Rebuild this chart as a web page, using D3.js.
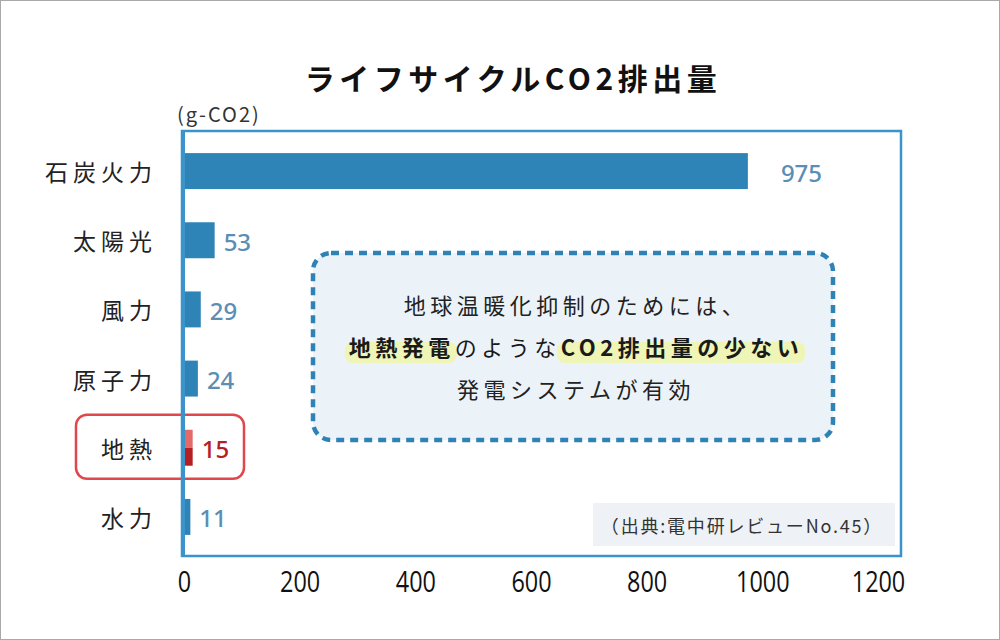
<!DOCTYPE html>
<html><head><meta charset="utf-8">
<script src="https://cdn.jsdelivr.net/npm/d3@7"></script>
<style>
html,body{margin:0;padding:0;background:#fff;}
svg{display:block;}
</style></head>
<body>
<svg id="chart" width="1000" height="640"></svg>
<script>
const categories = ["石炭火力","太陽光","風力","原子力","地熱","水力"];
const values = [975, 53, 29, 24, 15, 11];
const xTicks = [0, 200, 400, 600, 800, 1000, 1200];
const titleText = "ライフサイクルCO2排出量";
const unitText = "(g-CO2)";
const sourceText = "（出典:電中研レビューNo.45）";
const noteLine1 = "地球温暖化抑制のためには、";
const noteLine2 = [{t:"地熱発電", b:true}, {t:"のような", b:false}, {t:"CO2排出量の少ない", b:true}];
const noteLine3 = "発電システムが有効";
const highlightCat = "地熱";

const JP = "'Noto Sans CJK JP','Noto Sans',sans-serif";
const svg = d3.select("#chart");

// outer border
svg.append("rect").attr("x",0.5).attr("y",0.5).attr("width",999).attr("height",639)
  .attr("fill","#fff").attr("stroke","#a9a9a9").attr("stroke-width",1);

const x = d3.scaleLinear().domain([0,1200]).range([184, 878]);
const y = d3.scaleBand().domain(categories).range([136.5, 551.5]).paddingInner(0.48).paddingOuter(0.24);

const frameTop = 131, frameBottom = 556, frameRight = 901;

// title
svg.append("text").attr("x",513).attr("y",77).attr("text-anchor","middle")
  .attr("dominant-baseline","central")
  .style("font-family",JP).style("font-weight","700").style("font-size","30px")
  .style("letter-spacing","4.5px").attr("fill","#111").text(titleText);

// unit
svg.append("text").attr("x",177).attr("y",113).attr("dominant-baseline","central")
  .style("font-family",JP).style("font-size","20px").style("letter-spacing","2px")
  .attr("fill","#333").text(unitText);

// highlight box around geothermal
const hy = y(highlightCat) + y.bandwidth()/2;
svg.append("rect").attr("x",76).attr("y",hy-33).attr("width",168).attr("height",64)
  .attr("rx",11).attr("fill","none").attr("stroke","#e0474c").attr("stroke-width",2.5);

// frame
svg.append("rect").attr("x",182).attr("y",frameTop).attr("width",frameRight-182).attr("height",frameBottom-frameTop)
  .attr("fill","none").attr("stroke","#3a93cb").attr("stroke-width",2.5);

// annotation box
svg.append("rect").attr("x",313).attr("y",253).attr("width",520).attr("height",187).attr("rx",18)
  .attr("fill","#ecf3f8").attr("stroke","#2e82b5").attr("stroke-width",4.5)
  .attr("stroke-dasharray","8 6");

const noteG = svg.append("g");
const noteCx = 574;
function noteText(str, yy){
  noteG.append("text").attr("x",noteCx+2).attr("y",yy).attr("text-anchor","middle")
    .attr("dominant-baseline","central")
    .style("font-family",JP).style("font-size","22px").style("letter-spacing","4.5px")
    .attr("fill","#222").text(str);
}
noteText(noteLine1, 304);
noteText(noteLine3, 388);
// line 2 with highlights
const hlG = noteG.append("g");
const pieces = noteLine2.map(p => {
  const t = noteG.append("text").attr("y",346).attr("dominant-baseline","central")
    .style("font-family",JP).style("font-size","22px").style("letter-spacing","4.5px")
    .style("font-weight", p.b ? "700" : "400").attr("fill","#1a1a1a").text(p.t);
  return {el:t, w:t.node().getComputedTextLength(), b:p.b};
});
const total = d3.sum(pieces, p=>p.w);
let cx = noteCx - total/2 + 2;
pieces.forEach(p => {
  p.el.attr("x", cx);
  if (p.b) {
    hlG.append("rect").attr("x",cx-4).attr("y",342).attr("width",p.w+6).attr("height",21)
      .attr("rx",8).attr("fill","#eef5b6");
  }
  cx += p.w;
});

// source box
svg.append("rect").attr("x",593).attr("y",503).attr("width",302).attr("height",43).attr("fill","#eef2f7");
svg.append("text").attr("x",742).attr("y",525).attr("text-anchor","middle").attr("dominant-baseline","central")
  .style("font-family",JP).style("font-size","18px").style("letter-spacing","1.8px")
  .attr("fill","#333").text(sourceText);

// bars
const bars = svg.append("g");
categories.forEach((c,i) => {
  const v = values[i];
  const y0 = y(c), bw = y.bandwidth();
  if (c === highlightCat) {
    bars.append("rect").attr("x",x(0)).attr("y",y0).attr("width",x(v)-x(0)).attr("height",bw/2).attr("fill","#e46a6a");
    bars.append("rect").attr("x",x(0)).attr("y",y0+bw/2).attr("width",x(v)-x(0)).attr("height",bw/2).attr("fill","#b41f24");
  } else {
    bars.append("rect").attr("x",x(0)).attr("y",y0).attr("width",x(v)-x(0)).attr("height",bw).attr("fill","#2f84b7");
  }
  svg.append("text").attr("x", x(v) + (i===0 ? 33 : 9)).attr("y", y0 + bw/2 + 1).attr("dominant-baseline","central")
    .style("font-family","'Noto Sans',sans-serif").style("font-size","24px").style("font-weight","500")
    .attr("fill", c===highlightCat ? "#b52025" : "#5b8eb4").text(v);
  // category label
  svg.append("text").attr("x",157).attr("y",y0 + bw/2).attr("text-anchor","end").attr("dominant-baseline","central")
    .style("font-family",JP).style("font-size","23px").style("letter-spacing","5px")
    .attr("fill","#222").text(c);
});

// left axis line (thick)
svg.append("line").attr("x1",183).attr("x2",183).attr("y1",frameTop-1).attr("y2",frameBottom+1)
  .attr("stroke","#3a93cb").attr("stroke-width",4);

// x axis
const xAxis = svg.append("g").attr("transform",`translate(0,${frameBottom})`)
  .call(d3.axisBottom(x).tickValues(xTicks).tickSize(0).tickFormat(d3.format("d")));
xAxis.select(".domain").remove();
xAxis.selectAll("text").attr("dy",null).attr("y",24).attr("dominant-baseline","central")
  .attr("transform","scale(0.78,1)")
  .style("font-family","'Open Sans','Noto Sans',sans-serif")
  .style("font-size","30px").style("font-weight","500").attr("fill","#111");
</script>
</body></html>
